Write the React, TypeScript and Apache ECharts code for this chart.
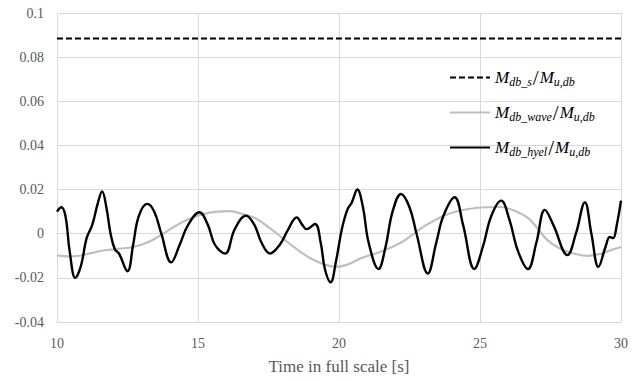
import React, { useEffect, useRef } from "react";
import * as echarts from "echarts";

// Time axis ticks [s] and value axis ticks
const xTicks = [10, 15, 20, 25, 30];
const yTicks = [-0.04, -0.02, 0, 0.02, 0.04, 0.06, 0.08, 0.1];

// Static moment ratio (constant level)
const staticTime = [10, 30];
const staticRatio = [0.0885, 0.0885];

// Wave-induced moment ratio
const waveTime = [
  10.0, 10.4, 10.8, 11.2, 11.7, 12.2, 12.7, 13.2, 13.7, 14.2, 14.7, 15.2, 15.7, 16.1,
  16.5, 17.0, 17.5, 18.0, 18.5, 19.0, 19.5, 19.9, 20.3, 20.8, 21.3, 21.8, 22.2, 22.6,
  23.0, 23.5, 24.0, 24.6, 25.2, 25.7, 26.2, 26.7, 27.0, 27.4, 27.8, 28.2, 28.8, 29.3,
  29.7, 30.0,
];
const waveRatio = [
  -0.0098, -0.0103, -0.01, -0.0088, -0.0075, -0.0068, -0.006, -0.004, -0.0005, 0.0035,
  0.0068, 0.009, 0.01, 0.0102, 0.0092, 0.0072, 0.003, -0.002, -0.007, -0.0112, -0.014,
  -0.015, -0.014, -0.011, -0.009, -0.0065, -0.004, -0.0005, 0.0032, 0.0068, 0.0095,
  0.0112, 0.012, 0.0121, 0.0105, 0.0072, 0.003, -0.003, -0.0065, -0.0085, -0.01,
  -0.009, -0.0072, -0.006,
];

// Hydroelastic moment ratio
const hyelTime = [
  10.0, 10.15, 10.3, 10.45, 10.65, 10.85, 11.05, 11.25, 11.45, 11.6, 11.75, 11.9, 12.05,
  12.2, 12.5, 12.7, 12.9, 13.2, 13.45, 13.7, 14.05, 14.35, 14.65, 15.05, 15.35, 15.6,
  15.96, 16.3, 16.7, 17.0, 17.25, 17.55, 17.9, 18.2, 18.5, 18.7, 18.85, 19.15, 19.35,
  19.5, 19.7, 19.9, 20.1, 20.3, 20.45, 20.65, 20.85, 21.05, 21.4, 21.65, 21.9, 22.2,
  22.5, 22.75, 23.15, 23.45, 23.7, 24.1, 24.4, 24.8, 25.1, 25.4, 25.75, 26.05, 26.35,
  26.7, 27.0, 27.3, 27.6, 28.1, 28.4, 28.72, 28.95, 29.2, 29.45, 29.6, 29.72, 29.85, 30.0,
];
const hyelRatio = [
  0.01, 0.012, 0.008, -0.008, -0.02, -0.0145, -0.002, 0.004, 0.014, 0.0192, 0.012, 0.0,
  -0.007, -0.009, -0.017, -0.005, 0.008, 0.0135, 0.01, 0.0, -0.013, -0.005, 0.004,
  0.0097, 0.004, -0.005, -0.009, 0.002, 0.0082, 0.004, -0.004, -0.009, -0.005, 0.002,
  0.0074, 0.004, 0.0021, 0.0044, -0.004, -0.016, -0.022, -0.012, 0.002, 0.011, 0.014,
  0.02, 0.012, -0.004, -0.016, -0.006, 0.01, 0.018, 0.012, 0.0, -0.018, -0.004, 0.008,
  0.0165, 0.004, -0.016, -0.006, 0.008, 0.015, 0.006, -0.008, -0.016, -0.004, 0.0108,
  0.004, -0.0097, 0.0, 0.0142, 0.0, -0.015, -0.006, -0.0015, -0.002, 0.004, 0.015,
];

const pairs = (xs: number[], ys: number[]) => xs.map((x, i) => [x, ys[i]]);

const ratioLabel = (sub: string) => `{m|M}{s|${sub}}{sl|/}{m|M}{s|u,db}`;

const SERIF = "serif";

const legendRich = {
  m: { fontFamily: SERIF, fontStyle: "italic", fontSize: 17, color: "#000", lineHeight: 20, verticalAlign: "middle" },
  s: { fontFamily: SERIF, fontStyle: "italic", fontSize: 12, color: "#000", lineHeight: 9, verticalAlign: "bottom" },
  sl: { fontFamily: SERIF, fontSize: 21, color: "#000", lineHeight: 20, verticalAlign: "middle", padding: [0, 1, 0, 1] },
};

const axisRich = { t: { fontFamily: SERIF, fontSize: 14, color: "#595959" } };

export default function App() {
  const ref = useRef<HTMLDivElement>(null);

  useEffect(() => {
    if (!ref.current) return;
    const chart = echarts.init(ref.current, null, { renderer: "svg" });
    chart.setOption({
      animation: false,
      backgroundColor: "#fff",
      textStyle: { fontFamily: SERIF },
      grid: { left: 57, right: 23, top: 13, bottom: 59 },
      legend: {
        orient: "vertical",
        left: 444,
        top: 62,
        itemWidth: 40,
        itemHeight: 14,
        itemGap: 14,
        data: ["static", "wave", "hyel"],
        itemStyle: { opacity: 0 },
        formatter: (name: string) =>
          name === "static" ? ratioLabel("db_s") : name === "wave" ? ratioLabel("db_wave") : ratioLabel("db_hyel"),
        textStyle: { fontFamily: SERIF, rich: legendRich },
      },
      xAxis: {
        type: "value",
        min: xTicks[0],
        max: xTicks[xTicks.length - 1],
        interval: 5,
        name: "{n|Time in full scale [s]}",
        nameLocation: "middle",
        nameGap: 36,
        nameTextStyle: {
          fontFamily: SERIF,
          fontSize: 17,
          color: "#595959",
          rich: { n: { fontFamily: SERIF, fontSize: 17, color: "#595959" } },
        },
        axisLine: { show: true, lineStyle: { color: "#d9d9d9" } },
        axisTick: { show: false },
        axisLabel: {
          fontFamily: SERIF,
          fontSize: 14,
          color: "#595959",
          margin: 14,
          formatter: (v: number) => `{t|${v}}`,
          rich: axisRich,
        },
        splitLine: { show: true, lineStyle: { color: "#d9d9d9", width: 1 } },
      },
      yAxis: {
        type: "value",
        min: yTicks[0],
        max: yTicks[yTicks.length - 1],
        interval: 0.02,
        axisLine: { show: true, lineStyle: { color: "#d9d9d9" } },
        axisTick: { show: false },
        axisLabel: {
          fontFamily: SERIF,
          fontSize: 14,
          color: "#595959",
          margin: 13,
          formatter: (v: number) => `{t|${Number(v.toFixed(2))}}`,
          rich: axisRich,
        },
        splitLine: { show: true, lineStyle: { color: "#d9d9d9", width: 1 } },
      },
      series: [
        {
          name: "wave",
          type: "line",
          data: pairs(waveTime, waveRatio),
          smooth: 0.4,
          showSymbol: false,
          symbol: "none",
          color: "#bfbfbf",
          lineStyle: { color: "#bfbfbf", width: 2.2 },
        },
        {
          name: "hyel",
          type: "line",
          data: pairs(hyelTime, hyelRatio),
          smooth: 0.4,
          showSymbol: false,
          symbol: "none",
          color: "#000",
          lineStyle: { color: "#000", width: 2.4 },
        },
        {
          name: "static",
          type: "line",
          data: pairs(staticTime, staticRatio),
          showSymbol: false,
          symbol: "none",
          color: "#000",
          lineStyle: { color: "#000", width: 2, type: [6, 3] },
        },
      ],
    });
    return () => chart.dispose();
  }, []);

  return <div ref={ref} style={{ width: 644, height: 381, position: "absolute", left: 0, top: 0 }} />;
}
